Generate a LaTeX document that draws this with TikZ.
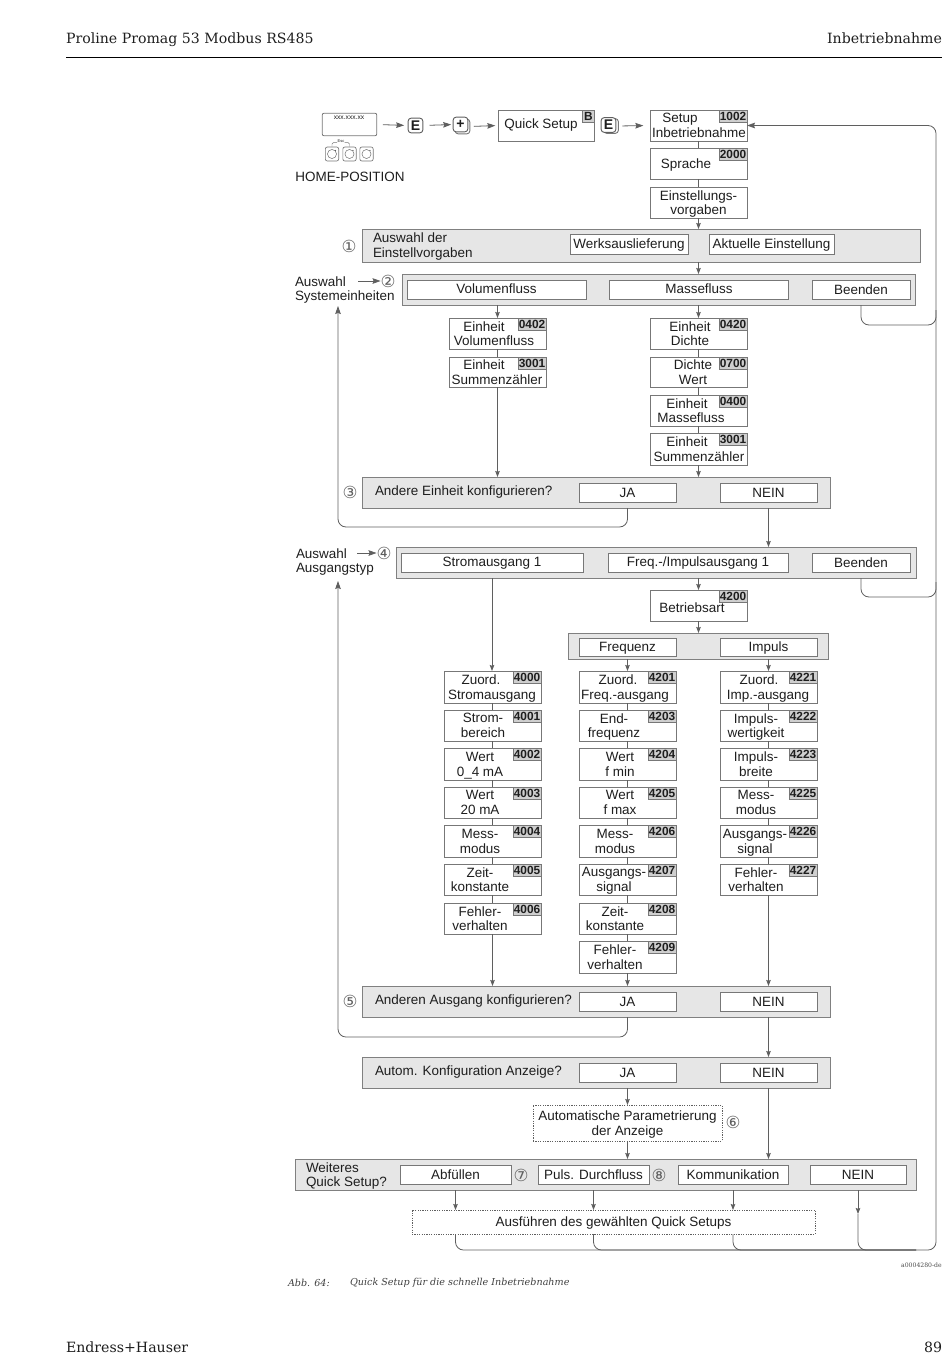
\documentclass[tikz,border=0pt]{standalone}
\usepackage{fontspec}
\setmainfont{Liberation Sans}
\newfontfamily\serifhead{DejaVu Serif}
\newfontfamily\symfont{DejaVu Sans}
\usetikzlibrary{arrows.meta,calc}
\definecolor{ln}{HTML}{5F5F5F}
\definecolor{bd}{HTML}{777777}
\definecolor{bandb}{HTML}{808080}
\definecolor{bandc}{HTML}{E6E6E6}
\definecolor{codec}{HTML}{CFCFCF}
\definecolor{txt}{HTML}{1E1E1E}
\newcommand{\dgfont}{\fontsize{10.1}{11.1}\selectfont}
\newcommand{\Sh}[1]{\hspace*{\dimexpr #1pt*3/2\relax}}
% generic box from corners: [style]{name}{x1}{y1}{x2}{y2}{text}
\newcommand{\bx}[7][plainbox]{%
  \pgfmathsetmacro{\cxx}{(#3+#5)/2}\pgfmathsetmacro{\cyy}{(#4+#6)/2}%
  \node[#1,minimum width={(#5-#3)*0.75pt},minimum height={(#6-#4)*0.75pt}] (#2) at (\cxx,\cyy) {};%
  \if\relax\detokenize{#7}\relax\else\node[dgtext] (#2-t) at (\cxx,\cyy) {#7};\fi}
% box with a code tab: {name}{x1}{y1}{y2}{code}{text x}{text}
\newcommand{\qb}[7]{%
  \pgfmathsetmacro{\xr}{#2+97}\pgfmathsetmacro{\cyt}{(#3+#4)/2}%
  \bx{#1}{#2}{#3}{\xr}{#4}{}%
  \node[codebox] (#1-c) at (#1.north east) {#5};%
  \node[dgtext] (#1-t) at (#6,\cyt) {#7};}
\tikzset{
  plainbox/.style={draw=bd,fill=white,line width=0.7pt,inner sep=0pt,outer sep=0pt},
  bandbox/.style={plainbox,draw=bandb,fill=bandc,line width=0.75pt},
  dotbox/.style={plainbox,draw=ln,line width=0.6pt,dash pattern=on 0.9pt off 0.9pt},
  codebox/.style={draw=bd,fill=codec,line width=0.5pt,inner sep=0pt,outer sep=0pt,anchor=north east,minimum width=21pt,minimum height=9pt,font=\fontsize{8.9}{9}\selectfont\bfseries,text=txt},
  dgtext/.style={inner sep=0pt,outer sep=0pt,text=txt,font=\dgfont,align=center,yshift=-1.1pt,
    execute at begin node={\vphantom{A}},execute at end node={\vphantom{g}}},
  lefttext/.style={dgtext,align=left,anchor=west},
  circ/.style={inner sep=0pt,outer sep=0pt,text=ln,font=\symfont\fontsize{12.5}{13}\selectfont},
  conn/.style={draw=ln,line width=0.6pt},
  arr/.style={conn,-{Stealth[length=4.5pt,width=3.4pt,inset=0.6pt]}},
  bigarr/.style={conn,-{Stealth[length=6pt,width=4.2pt,inset=0.8pt]}},
  ret/.style={conn,rounded corners=6pt},
  keybox/.style={draw=ln,fill=white,rounded corners=2.2pt,line width=0.7pt,inner sep=0pt,outer sep=0pt,minimum width=11pt,minimum height=11pt,font=\fontsize{10.5}{11}\selectfont\bfseries,text=txt},
  softkey/.style={draw=bd,fill=white,rounded corners=1.5pt,line width=0.5pt,inner sep=0pt,minimum width=10pt,minimum height=10.5pt},
  headtext/.style={inner sep=0pt,outer sep=0pt,text=txt,font=\serifhead\fontsize{10.6}{12}\selectfont,
    execute at begin node={\vphantom{A}},execute at end node={\vphantom{g}},yshift=-1pt},
  captext/.style={inner sep=0pt,outer sep=0pt,text=black!75,anchor=west,font=\serifhead\itshape\fontsize{7.2}{9}\selectfont}
}
\begin{document}
\begin{tikzpicture}[x=0.75pt,y=-0.75pt]
\useasboundingbox (0,0) rectangle (950,1370);
% page furniture
\node[headtext,anchor=west] (hl) at (66,38) {Proline Promag 53 Modbus RS485};
\node[headtext,anchor=east] (hr) at (942,38) {Inbetriebnahme};
\coordinate (ruleL) at (66,57); \coordinate (ruleR) at (942,57);
\draw[black,line width=0.7pt] (ruleL) -- (ruleR);
\node[headtext,anchor=west] (fl) at (66,1347) {Endress+Hauser};
\node[headtext,anchor=east] (fr) at (942,1347) {89};
\node[captext] (cap1) at (288,1283) {Abb. 64:};
\node[captext] (cap2) at (350,1283) {Quick Setup für die schnelle Inbetriebnahme};
\node[inner sep=0pt,anchor=east,text=black!70,font=\serifhead\fontsize{4.6}{5}\selectfont] (capid) at (942,1265) {a0004280-de};

% top row
\node[draw=bd,fill=white,rounded corners=1.5pt,line width=0.6pt,minimum width=41pt,minimum height=17pt,inner sep=0pt,outer sep=0pt] (disp) at (349.5,124.5) {};
\node[inner sep=0pt,text=txt,font=\fontsize{5}{6}\selectfont] (disptxt) at (349,118) {xxx.xxx.xx};
\node[softkey] (s1) at (332,154) {};
\node[softkey] (s2) at (349.5,154) {};
\node[softkey] (s3) at (366.5,154) {};
\foreach \k in {s1,s2,s3} {
  \draw[bd,line width=0.4pt] (\k) circle (3.4pt);
  \fill[ln] ($(\k)+(3.5,-3.5)$) circle (0.5pt);
}
\node[inner sep=0pt,text=txt,font=\fontsize{3}{4}\selectfont] (esc) at (341,141.5) {Esc};
\draw[bd,line width=0.35pt,rounded corners=1pt] (s1.north) -- ++(0,-4) -- ++(5,0) (s2.north) -- ++(0,-4) -- ++(-5,0);
\node[dgtext] (home) at (350,177) {HOME-POSITION};
\node[keybox] (k1) at (415.5,125.5) {E};
\node[keybox,fill=none,draw=bd] (k2s) at (462.5,126.5) {};
\node[keybox,fill=white] (k2) at (460.5,124.5) {+};
\node[keybox,fill=none,draw=bd] (k3s) at (611,126) {};
\node[keybox,fill=white] (k3) at (608.5,125) {E};
\bx{qs}{498}{110}{594}{141}{}
\node[codebox,minimum width=8.5pt,minimum height=9pt] (qs-c) at (qs.north east) {B};
\node[dgtext] (qs-t) at (541,124) {Quick Setup};
\qb{m1002}{650}{110}{141}{1002}{699}{\Sh{-19}Setup\\Inbetriebnahme}
\qb{m2000}{650}{148}{179}{2000}{686}{Sprache}
\bx{einst}{650}{187}{747}{218}{Einstellungs-\\vorgaben}

\draw[bigarr,shorten <=4.5pt,shorten >=3pt] (disp.east) -- (k1.west);
\draw[bigarr,shorten <=5pt,shorten >=1.5pt] (k1.east) -- (k2.west);
\draw[bigarr,shorten <=3pt,shorten >=2pt] (k2s.east) -- (qs.west);
\draw[bigarr,shorten <=3pt,shorten >=5pt] (k3s.east) -- (m1002.west);
\draw[conn] (m1002.south) -- (m2000.north);
\draw[conn] (m2000.south) -- (einst.north);

% band 1
\bx[bandbox]{b1}{362}{229}{920}{262}{}
\node[circ] (n1) at (349,246) {①};
\node[lefttext] (b1-t) at (373,245) {Auswahl der\\Einstellvorgaben};
\bx{werk}{570}{234}{688}{254}{Werksauslieferung}
\bx{aktu}{709}{234}{834}{254}{Aktuelle Einstellung}
\draw[arr] (einst.south) -- (einst.south |- b1.north);

% band 2
\bx[bandbox]{b2}{402}{274}{915}{305}{}
\bx{vol}{407}{280}{586}{299}{}
\node[dgtext] (vol-t) at (496.5,288.5) {Volumenfluss};
\bx{mas}{609}{280}{788}{299}{}
\node[dgtext] (mas-t) at (699,288.5) {Massefluss};
\bx{bee1}{812}{280}{910}{299}{Beenden}
\draw[arr] (einst.south |- b1.south) -- (einst.south |- b2.north);
\node[lefttext] (aus1) at (295,288.5) {Auswahl\\Systemeinheiten};
\node[circ] (n2) at (388,281) {②};
\coordinate (aus1a) at (358,281);
\draw[bigarr] (aus1a) -- (n2.west);

% unit branches
\qb{u0402}{449}{318}{349}{0402}{494}{\Sh{-10}Einheit\\Volumenfluss}
\qb{u3001}{449}{357}{387}{3001}{497}{\Sh{-13}Einheit\\Summenzähler}
\qb{u0420}{650}{318}{349}{0420}{690}{Einheit\\Dichte}
\qb{u0700}{650}{357}{387}{0700}{693}{Dichte\\Wert}
\qb{u0400}{650}{395}{426}{0400}{691}{\Sh{-4}Einheit\\Massefluss}
\qb{u3002}{650}{433}{465}{3001}{699}{\Sh{-12}Einheit\\Summenzähler}
\draw[arr] (u0402.north |- b2.south) -- (u0402.north);
\draw[conn] (u0402.south) -- (u3001.north);
\draw[arr] (u0420.north |- b2.south) -- (u0420.north);
\draw[conn] (u0420.south) -- (u0700.north);
\draw[conn] (u0700.south) -- (u0400.north);
\draw[conn] (u0400.south) -- (u3002.north);

% band 3
\bx[bandbox]{b3}{362}{477}{830}{508}{}
\node[circ] (n3) at (350,492) {③};
\node[lefttext] (b3-t) at (375,491) {Andere Einheit konfigurieren?};
\bx{ja3}{579}{483}{676}{502}{JA}
\bx{nein3}{720}{483}{817}{502}{NEIN}
\draw[arr] (u3001.south) -- (u3001.south |- b3.north);
\draw[arr] (u3002.south) -- (u3002.south |- b3.north);

% band 4
\bx[bandbox]{b4}{396}{547}{916}{578}{}
\bx{strom}{401}{553}{583}{572}{}
\node[dgtext] (strom-t) at (492,561.5) {Stromausgang 1};
\bx{freq}{608}{553}{788}{572}{}
\node[dgtext] (freq-t) at (698,561.5) {Freq.-/Impulsausgang 1};
\bx{bee2}{812}{553}{910}{572}{Beenden}
\node[lefttext] (aus2) at (296,560.5) {Auswahl\\Ausgangstyp};
\node[circ] (n4) at (384,553) {④};
\coordinate (aus2a) at (357,553);
\draw[bigarr] (aus2a) -- (n4.west);
\draw[arr] (nein3.south |- b3.south) -- (nein3.south |- b4.north);

% return lines band 3 to 2, band 5 to 4
\coordinate (r3b) at (338,527); \coordinate (r3t) at (338,306);
\draw[ret,bigarr] (ja3.south |- b3.south) -- (ja3.south |- r3b) -- (r3b) -- (r3t);
\coordinate (r5b) at (338,1037); \coordinate (r5t) at (338,581);

% right bus
\coordinate (busR) at (936,1250);
\draw[ret] (bee1.south |- b2.south) -- (bee1.south |- 0,325) -- (busR |- 0,325) -- (busR |- 0,310);
\draw[ret] (bee2.south |- b4.south) -- (bee2.south |- 0,597) -- (busR |- 0,597) -- (busR |- 0,582);

% Betriebsart and frequency band
\bx{m4200}{650}{590}{747}{621}{}
\node[codebox] (m4200-c) at (m4200.north east) {4200};
\node[dgtext] (m4200-t) at (692,608) {Betriebsart};
\draw[arr] (m4200.north |- b4.south) -- (m4200.north);
\bx[bandbox]{b4f}{568}{633}{828}{659}{}
\bx{fr}{579}{638}{676}{656}{Frequenz}
\bx{im}{720}{638}{817}{656}{Impuls}
\draw[arr] (m4200.south) -- (m4200.south |- b4f.north);

% column A
\qb{a0}{444}{671}{703}{4000}{492}{\Sh{-11}Zuord.\\Stromausgang}
\qb{a1}{444}{710}{741}{4001}{483}{Strom-\\bereich}
\qb{a2}{444}{748}{780}{4002}{480}{Wert\\0\_4 mA}
\qb{a3}{444}{787}{818}{4003}{480}{Wert\\20 mA}
\qb{a4}{444}{825}{857}{4004}{480}{Mess-\\modus}
\qb{a5}{444}{864}{895}{4005}{480}{Zeit-\\konstante}
\qb{a6}{444}{903}{934}{4006}{480}{Fehler-\\verhalten}
% column B
\qb{f0}{579}{671}{703}{4201}{625}{\Sh{-7}Zuord.\\Freq.-ausgang}
\qb{f1}{579}{710}{741}{4203}{614}{End-\\frequenz}
\qb{f2}{579}{748}{780}{4204}{620}{Wert\\f min}
\qb{f3}{579}{787}{818}{4205}{620}{Wert\\f max}
\qb{f4}{579}{825}{857}{4206}{615}{Mess-\\modus}
\qb{f5}{579}{864}{895}{4207}{614}{Ausgangs-\\signal}
\qb{f6}{579}{903}{934}{4208}{615}{Zeit-\\konstante}
\qb{f7}{579}{941}{973}{4209}{615}{Fehler-\\verhalten}
% column C
\qb{c0}{720}{671}{703}{4221}{768}{\Sh{-9}Zuord.\\Imp.-ausgang}
\qb{c1}{720}{710}{741}{4222}{756}{Impuls-\\wertigkeit}
\qb{c2}{720}{748}{780}{4223}{756}{Impuls-\\breite}
\qb{c3}{720}{787}{818}{4225}{756}{Mess-\\modus}
\qb{c4}{720}{825}{857}{4226}{755}{Ausgangs-\\signal}
\qb{c5}{720}{864}{895}{4227}{756}{Fehler-\\verhalten}

\draw[arr] (strom.south |- b4.south) -- (strom.south |- a0.north);
\draw[arr] (f0.north |- b4f.south) -- (f0.north);
\draw[arr] (c0.north |- b4f.south) -- (c0.north);
\foreach \p/\q in {a0/a1,a1/a2,a2/a3,a3/a4,a4/a5,a5/a6,f0/f1,f1/f2,f2/f3,f3/f4,f4/f5,f5/f6,f6/f7,c0/c1,c1/c2,c2/c3,c3/c4,c4/c5}
  \draw[conn] (\p.south) -- (\q.north);

% band 5
\bx[bandbox]{b5}{362}{986}{830}{1017}{}
\node[circ] (n5) at (350,1001) {⑤};
\node[lefttext] (b5-t) at (375,1000) {Anderen Ausgang konfigurieren?};
\bx{ja5}{579}{992}{676}{1011}{JA}
\bx{nein5}{720}{992}{817}{1011}{NEIN}
\draw[arr] (a6.south) -- (a6.south |- b5.north);
\draw[arr] (f7.south) -- (f7.south |- b5.north);
\draw[arr] (c5.south) -- (c5.south |- b5.north);
\draw[ret,bigarr] (ja5.south |- b5.south) -- (ja5.south |- r5b) -- (r5b) -- (r5t);

% band 6
\bx[bandbox]{b6}{362}{1057}{830}{1088}{}
\node[lefttext] (b6-t) at (375,1071) {Autom. Konfiguration Anzeige?};
\bx{ja6}{579}{1063}{676}{1082}{JA}
\bx{nein6}{720}{1063}{817}{1082}{NEIN}
\draw[arr] (nein5.south |- b5.south) -- (nein5.south |- b6.north);

% automatic parameter box
\bx[dotbox]{auto}{533}{1105}{722}{1141}{Automatische Parametrierung\\der Anzeige}
\node[circ] (n6) at (733,1122) {⑥};
\draw[arr] (ja6.south |- b6.south) -- (ja6.south |- auto.north);

% band 7
\bx[bandbox]{b7}{295}{1159}{916}{1190}{}
\node[lefttext] (b7-t) at (306,1174.5) {Weiteres\\Quick Setup?};
\bx{abf}{400}{1165}{511}{1184}{Abfüllen}
\node[circ] (n7) at (521,1175) {⑦};
\bx{puls}{538}{1165}{649}{1184}{Puls. Durchfluss}
\node[circ] (n8) at (659,1175) {⑧};
\bx{komm}{678}{1165}{788}{1184}{Kommunikation}
\bx{nein7}{810}{1165}{906}{1184}{NEIN}
\draw[arr] (ja6.south |- auto.south) -- (ja6.south |- b7.north);
\draw[arr] (nein6.south |- b6.south) -- (nein6.south |- b7.north);

% execute box
\bx[dotbox]{exec}{412}{1210}{815}{1234}{Ausführen des gewählten Quick Setups}
\draw[arr] (abf.south |- b7.south) -- (abf.south |- exec.north);
\draw[arr] (puls.south |- b7.south) -- (puls.south |- exec.north);
\draw[arr] (komm.south |- b7.south) -- (komm.south |- exec.north);
\coordinate (neinA) at (858,1214);
\draw[arr] (nein7.south |- b7.south) -- (neinA);

% bottom bus back to setup
\draw[ret] (abf.south |- exec.south) -- (abf.south |- busR) -- ($(busR)+(-20,0)$);
\draw[ret] (puls.south |- exec.south) -- (puls.south |- busR) -- ($(busR)+(-20,0)$);
\draw[ret] (komm.south |- exec.south) -- (komm.south |- busR) -- ($(busR)+(-20,0)$);
\draw[ret] (neinA) -- (neinA |- busR) -- ($(busR)+(-20,0)$);
\draw[ret,bigarr] ($(busR)+(-20,0)$) -- (busR) -- (busR |- m1002.east) -- (m1002.east);
\end{tikzpicture}
\end{document}
